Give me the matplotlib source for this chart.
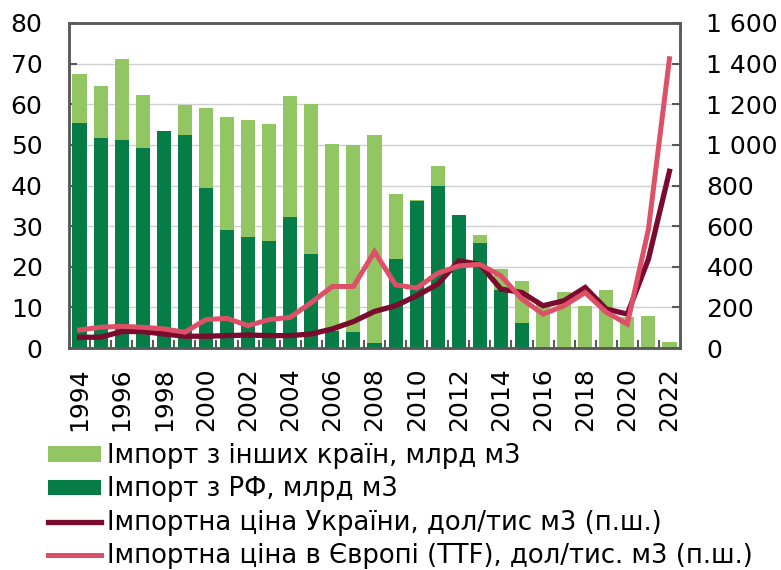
import numpy as np
import matplotlib
matplotlib.use("Agg")
import matplotlib.pyplot as plt
from matplotlib.ticker import FuncFormatter, MultipleLocator

plt.rcParams['font.family'] = ['DejaVu Sans']

years = list(range(1994, 2023))
import_rf = [55.4, 51.8, 51.1, 49.3, 53.5, 52.5, 39.3, 29.0, 27.3, 26.3, 32.2, 23.1, 4.1, 4.0, 1.3,
             21.9, 36.3, 40.0, 32.7, 25.8, 14.2, 6.1, 0, 0, 0, 0, 0, 0, 0]
import_other = [12.0, 12.6, 20.0, 12.9, 0.0, 7.4, 19.8, 27.9, 28.9, 28.9, 29.8, 36.9, 46.1, 46.0, 51.1,
                15.9, 0.2, 4.8, 0.1, 2.1, 5.2, 10.4, 11.0, 13.9, 10.4, 14.3, 7.6, 7.8, 1.6]
price_ua = [53, 53, 81, 81, 69, 58, 58, 61, 64, 61, 61, 69, 94, 130, 180, 208, 257, 314, 429, 412,
            290, 273, 208, 233, 298, 192, 167, 437, 870]
price_ttf = [89, 102, 107, 102, 94, 78, 140, 146, 110, 140, 151, 224, 303, 303, 474, 311, 295, 368,
             404, 412, 355, 241, 167, 208, 273, 176, 118, 584, 1424]

labels = ["Імпорт з інших країн, млрд м3",
          "Імпорт з РФ, млрд м3",
          "Імпортна ціна України, дол/тис м3 (п.ш.)",
          "Імпортна ціна в Європі (TTF), дол/тис. м3 (п.ш.)"]

c_light = "#92C662"
c_dark = "#067D46"
c_maroon = "#7A0A2E"
c_pink = "#DE5068"
c_spine = "#595959"
fs = 18
fs_leg = 18.6

W, H = 781, 570
fig = plt.figure(figsize=(W / 100, H / 100), dpi=100)
L, R, T, B = 69, 680, 23, 348
ax = fig.add_axes([L / W, 1 - B / H, (R - L) / W, (B - T) / H])

x = np.arange(len(years))
b_rf = ax.bar(x, import_rf, width=0.67, color=c_dark, zorder=2)
b_oth = ax.bar(x, import_other, bottom=import_rf, width=0.67, color=c_light, zorder=2)
ax.set_xlim(-0.5, len(years) - 0.5)
ax.set_ylim(0, 80)
ax.yaxis.set_major_locator(MultipleLocator(10))
ax.grid(axis='y', color="#D0D0D0", linewidth=1.0, zorder=0)
ax.set_axisbelow(True)

ax.set_xticks(x[::2])
ax.set_xticklabels([str(y) for y in years[::2]], rotation=90)
ax.set_xticks(np.arange(0.5, len(years) - 1, 1), minor=True)
ax.tick_params(axis='x', which='major', length=0, pad=14, labelsize=fs)
ax.tick_params(axis='x', which='minor', direction='in', length=5.5, width=1.5, color=c_spine)
ax.tick_params(axis='y', direction='in', length=5.5, width=1.5, color=c_spine, pad=19, labelsize=fs)

ax2 = ax.twinx()
l_ua, = ax2.plot(x, price_ua, color=c_maroon, linewidth=3.8, zorder=3, solid_joinstyle='miter')
l_ttf, = ax2.plot(x, price_ttf, color=c_pink, linewidth=3.6, zorder=4, solid_joinstyle='miter')
ax2.set_ylim(0, 1600)
ax2.yaxis.set_major_locator(MultipleLocator(200))
ax2.yaxis.set_major_formatter(FuncFormatter(lambda v, p: f"{int(v):,}".replace(",", " ")))
ax2.tick_params(axis='y', direction='in', length=5.5, width=1.5, color=c_spine, pad=19, labelsize=fs)

for a in (ax, ax2):
    for s in a.spines.values():
        s.set_color(c_spine)
        s.set_linewidth(1.8)

leg = fig.legend([b_oth, b_rf, l_ua, l_ttf], labels, loc='upper left',
                 bbox_to_anchor=(48 / W, 1 - 443 / H), frameon=False, fontsize=fs_leg,
                 handlelength=2.05, handleheight=0.55, handletextpad=0.25, labelspacing=0.29,
                 borderaxespad=0, borderpad=0)

fig.savefig("out.png", dpi=100)
